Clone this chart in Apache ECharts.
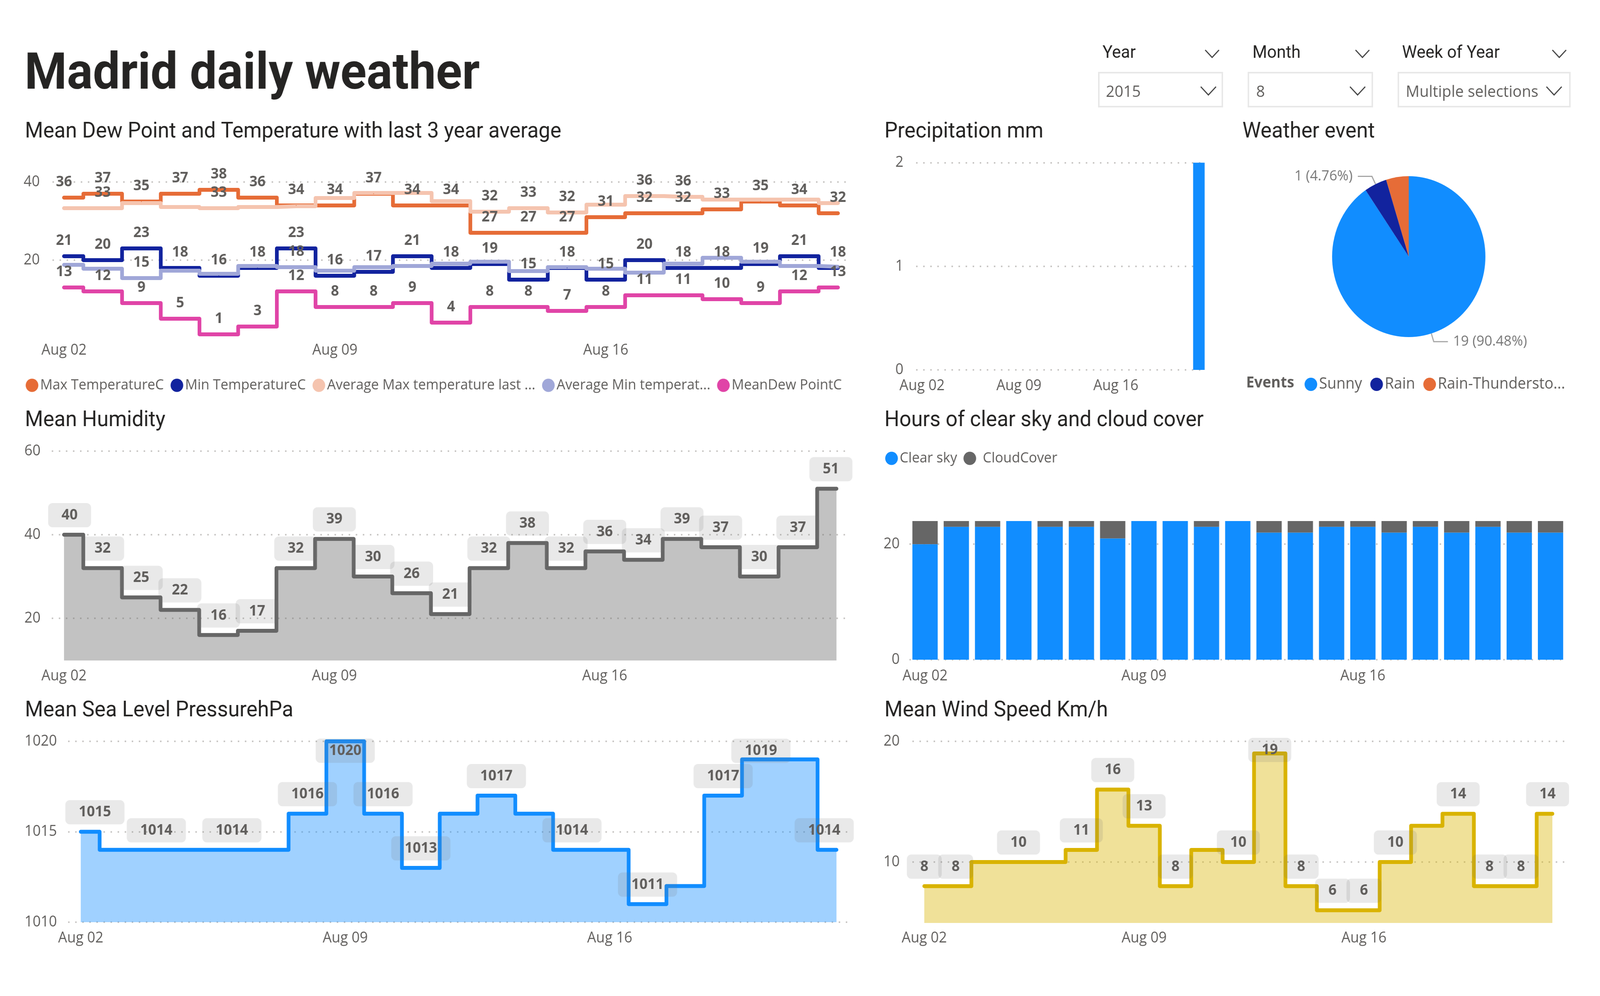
<!DOCTYPE html>
<html lang="en">
<head>
    <meta charset="UTF-8">
    <title>Madrid daily weather</title>
    <style>html,body{margin:0;padding:0;background:#fff;overflow:hidden;}</style>
    <script src="https://cdn.jsdelivr.net/npm/echarts@6/dist/echarts.min.js"></script>
</head>
<body>
<div id="main" style="width:4300px;height:2550px;transform-origin:0 0;"></div>
<script>
    // the report is laid out at 4300 wide, squeeze it if the window is narrower
    if (window.innerWidth < 4300) {
        document.getElementById('main').style.transform = 'scaleX(' + (window.innerWidth / 4300) + ')';
    }

    var days = ['Aug 02','Aug 03','Aug 04','Aug 05','Aug 06','Aug 07','Aug 08','Aug 09','Aug 10','Aug 11','Aug 12',
        'Aug 13','Aug 14','Aug 15','Aug 16','Aug 17','Aug 18','Aug 19','Aug 20','Aug 21','Aug 22'];

    var maxTemp = [36,37,35,37,38,36,34,34,37,34,34,27,27,27,31,32,32,33,35,34,32];
    var minTemp = [21,20,23,18,16,18,23,16,17,21,18,19,15,18,15,20,18,18,19,21,18];
    var avgMax = [33.3,33.3,34.6,33.6,33.3,33.6,33.8,35.9,37.2,37.2,35.1,32.4,33.3,32.2,34.2,36.4,36.2,35.5,35.5,35.5,34.6];
    var avgMin = [18.8,17.8,15.4,17.3,16.5,18.5,18.2,17.3,18.2,18.5,19.1,19.6,17.2,18.2,17.8,16.8,19.1,20.6,19.6,18.5,18.3];
    var dewPoint = [13,12,9,5,1,3,12,8,8,9,4,8,8,7,8,11,11,10,9,12,13];
    var humidity = [40,32,25,22,16,17,32,39,30,26,21,32,38,32,36,34,39,37,30,37,51];
    var pressure = [1015,1014,1014,1014,1014,1014,1016,1020,1016,1013,1016,1017,1016,1014,1014,1011,1012,1017,1019,1019,1014];
    var wind = [8,8,10,10,10,11,16,13,8,11,10,19,8,6,6,10,13,14,8,8,14];
    var precipitation = [0,0,0,0,0,0,0,0,0,0,0,0,0,0,0,0,0,0,0,0,2];
    var clearSky = [20,23,23,24,23,23,21,24,24,23,24,22,22,23,23,22,23,22,23,22,22];
    var cloudCover = [4,1,1,0,1,1,3,0,0,1,0,2,2,1,1,2,1,2,1,2,2];
    var events = [
        {name: 'Sunny', value: 19},
        {name: 'Rain', value: 1},
        {name: 'Rain-Thunderstorm', value: 1}
    ];

    var BLUE = '#118DFF', NAVY = '#12239E', ORANGE = '#E66C37';
    var textGrey = '#605E5C', titleColor = '#252423';
    var baseFont = '"Open Sans"', titleFont = 'Roboto';

    // which days get a label (the report hides the ones that would collide)
    var avgMaxLabels = [1,4,11,12,13,15,16];
    var avgMinLabels = [2,6];
    var pressureLabels = {0:[38,0],2:[0,0],4:[0,0],6:[0,0],7:[0,74],8:[0,0],9:[0,0],11:[0,0],13:[0,0],15:[0,0],17:[0,0],18:[0,28],20:[-33,0]};
    var windLabels = {0:[0,0],1:[0,0],3:[0,0],5:[0,0],6:[0,0],7:[0,0],8:[0,0],10:[0,0],11:[0,41],12:[0,0],13:[0,0],14:[0,0],15:[0,0],17:[0,0],18:[0,0],19:[0,0],20:[-13,0]};
    var humidityLabels = {};
    for (var h = 0; h < 21; h++) { humidityLabels[h] = [0,0]; }
    humidityLabels[0] = [15,0];
    humidityLabels[20] = [-15,0];

    function titleItem(text, left, baseline, size, weight) {
        return {
            text: text, left: left, top: baseline - size * 0.86, padding: 0,
            textStyle: {fontFamily: titleFont, fontSize: size, fontWeight: weight || 'normal', color: titleColor}
        };
    }

    function gridItem(left, right, top, bottom) {
        return {left: left, top: top, width: right - left, height: bottom - top, outerBoundsMode: 'none'};
    }

    function xAxisItem(index, first, spacing, left, right, margin) {
        return {
            gridIndex: index, type: 'value',
            min: (left - first) / spacing, max: (right - first) / spacing,
            axisLine: {show: false}, splitLine: {show: false},
            axisTick: {show: false, customValues: [0,7,14]},
            axisLabel: {
                customValues: [0,7,14], margin: margin, color: textGrey, fontFamily: baseFont, fontSize: 38,
                formatter: function (v) { return days[v]; }
            }
        };
    }

    function yAxisItem(index, min, max, ticks, margin) {
        return {
            gridIndex: index, type: 'value', min: min, max: max,
            axisLine: {show: false},
            axisTick: {show: false, customValues: ticks},
            axisLabel: {
                customValues: ticks, margin: margin, color: textGrey, fontFamily: baseFont, fontSize: 38,
                formatter: function (v) { return '' + v; }
            },
            splitLine: {show: true, lineStyle: {color: '#C8C6C4', width: 4, type: [4,15]}}
        };
    }

    function points(values, labelFor) {
        var out = [];
        for (var i = 0; i < values.length; i++) {
            var item = {value: [i, values[i]]};
            item.label = labelFor(i);
            out.push(item);
        }
        return out;
    }

    function stepSeries(name, values, color, index, labelFor, extra) {
        var s = {
            name: name, type: 'line', step: 'middle', xAxisIndex: index, yAxisIndex: index,
            data: points(values, labelFor), clip: false,
            symbol: 'circle', symbolSize: 2, itemStyle: {color: color},
            lineStyle: {color: color, width: 10, cap: 'round', join: 'round'},
            label: {
                position: 'top', distance: 20, color: textGrey, fontFamily: baseFont, fontSize: 38, fontWeight: 'bold',
                lineHeight: 38, formatter: function (p) { return Math.round(p.value[1]); }
            }
        };
        if (extra) {
            s.areaStyle = {color: color, opacity: 0.4, origin: 'start'};
            s.label.backgroundColor = 'rgba(120,120,120,0.16)';
            s.label.borderRadius = 12;
            s.label.padding = [12,36];
            s.label.distance = 18;
        }
        return s;
    }

    function showAll() { return {show: true}; }
    function showIn(list) {
        return function (i) { return {show: list.indexOf(i) >= 0}; };
    }
    function showMap(map) {
        return function (i) {
            return map[i] ? {show: true, offset: map[i]} : {show: false};
        };
    }

    var legendText = {fontFamily: baseFont, fontSize: 37, color: textGrey};
    var shortNames = {
        'Average Max temperature last 3 years': 'Average Max temperature last ...',
        'Average Min temperature last 3 years': 'Average Min temperat...',
        'Rain-Thunderstorm': 'Rain-Thundersto...'
    };
    function shortName(name) { return shortNames[name] || name; }

    // slicers along the top right
    function chevron(x1, x2, y1, y2) {
        return {
            type: 'polyline',
            shape: {points: [[x1,y1],[(x1 + x2) / 2,y2],[x2,y1]]},
            style: {fill: null, stroke: '#444', lineWidth: 3}
        };
    }
    function slicer(label, value, boxLeft, boxRight, labelX, headChevX, boxChevX, valueX) {
        return [
            {type: 'text', x: labelX, y: 137, style: {text: label, fontFamily: titleFont, fontSize: 45, fill: titleColor, textVerticalAlign: 'middle'}},
            chevron(headChevX, headChevX + 37, 128, 147),
            {type: 'rect', shape: {x: boxLeft, y: 186, width: boxRight - boxLeft, height: 87}, style: {fill: '#fff', stroke: '#E8E8E8', lineWidth: 4}},
            {type: 'text', x: valueX, y: 236, style: {text: value, fontFamily: baseFont, fontSize: 41, fill: textGrey, textVerticalAlign: 'middle'}},
            chevron(boxChevX, boxChevX + 41, 222, 243)
        ];
    }

    var graphics = [].concat(
        slicer('Year', '2015', 2953, 3285, 2963, 3239, 3227, 2972),
        slicer('Month', '8', 3355, 3688, 3366, 3643, 3628, 3376),
        slicer('Week of Year', 'Multiple selections', 3758, 4219, 3768, 4172, 4156, 3778),
        [{type: 'text', x: 3349, y: 981, style: {text: 'Events', fontFamily: baseFont, fontWeight: 'bold', fontSize: 39, fill: textGrey, textVerticalAlign: 'middle'}}]
    );

    var option = {
        backgroundColor: '#fff',
        animation: false,
        title: [
            titleItem('Madrid daily weather', 66, 241, 130, 'bold'),
            titleItem('Mean Dew Point and Temperature with last 3 year average', 67, 358, 56),
            titleItem('Precipitation mm', 2377, 358, 56),
            titleItem('Weather event', 3339, 358, 56),
            titleItem('Mean Humidity', 67, 1097, 56),
            titleItem('Hours of clear sky and cloud cover', 2377, 1097, 56),
            titleItem('Mean Sea Level PressurehPa', 67, 1840, 56),
            titleItem('Mean Wind Speed Km/h', 2377, 1840, 56)
        ],
        legend: [
            {
                left: 69, top: 968, icon: 'circle', itemWidth: 34, itemHeight: 34, itemGap: 18, padding: 0,
                data: ['Max TemperatureC','Min TemperatureC','Average Max temperature last 3 years','Average Min temperature last 3 years','MeanDew PointC'],
                textStyle: legendText, formatter: shortName
            },
            {
                left: 3506, top: 964, icon: 'circle', itemWidth: 34, itemHeight: 34, itemGap: 22, padding: 0,
                data: ['Sunny','Rain','Rain-Thunderstorm'],
                textStyle: {fontFamily: baseFont, fontSize: 40, color: textGrey}, formatter: shortName
            },
            {
                left: 2379, top: 1155, icon: 'circle', itemWidth: 34, itemHeight: 34, itemGap: 17, padding: 0,
                data: ['Clear sky', {name: 'CloudCover', textStyle: {padding: [0,0,0,13]}}],
                textStyle: legendText
            }
        ],
        grid: [
            gridItem(141, 2274, 466, 866),
            gridItem(2462, 3237, 416.6, 947),
            gridItem(139, 2275, 1155, 1691),
            gridItem(2444, 4209, 1334, 1689),
            gridItem(183, 2278, 1898, 2361),
            gridItem(2452, 4205, 1898, 2363)
        ],
        xAxis: [
            xAxisItem(0, 172, 104, 141, 2274, 12),
            xAxisItem(1, 2478, 37.2, 2462, 3237, 22),
            xAxisItem(2, 172, 103.8, 139, 2275, 21),
            {
                gridIndex: 3, type: 'category', data: days,
                axisLine: {show: false}, axisTick: {show: false},
                axisLabel: {interval: 6, margin: 23, color: textGrey, fontFamily: baseFont, fontSize: 38}
            },
            xAxisItem(4, 217, 101.55, 183, 2278, 22),
            xAxisItem(5, 2484, 84.4, 2452, 4205, 20)
        ],
        yAxis: [
            yAxisItem(0, 0, 40, [20,40], 34),
            yAxisItem(1, 0, 2, [0,1,2], 34),
            yAxisItem(2, 9.9, 60, [20,40,60], 30),
            yAxisItem(3, 0, 24, [0,20], 26),
            yAxisItem(4, 1010, 1020, [1010,1015,1020], 30),
            yAxisItem(5, 4.95, 20, [10,20], 34)
        ],
        series: [
            stepSeries('Max TemperatureC', maxTemp, ORANGE, 0, showAll),
            stepSeries('Min TemperatureC', minTemp, NAVY, 0, showAll),
            stepSeries('Average Max temperature last 3 years', avgMax, '#F5C4AF', 0, showIn(avgMaxLabels)),
            stepSeries('Average Min temperature last 3 years', avgMin, '#A0A7D8', 0, showIn(avgMinLabels)),
            stepSeries('MeanDew PointC', dewPoint, '#E044A7', 0, showAll),
            {
                name: 'Precipitation mm', type: 'bar', xAxisIndex: 1, yAxisIndex: 1, barWidth: 31,
                data: precipitation.map(function (v, i) { return [i, v]; }),
                itemStyle: {color: BLUE}
            },
            {
                name: 'Weather event', type: 'pie', center: [3786, 657], radius: 206,
                startAngle: 90, clockwise: true, percentPrecision: 2,
                data: [
                    {name: events[0].name, value: events[0].value, itemStyle: {color: BLUE}},
                    {name: events[1].name, value: events[1].value, itemStyle: {color: NAVY}},
                    {name: events[2].name, value: events[2].value, itemStyle: {color: ORANGE}, label: {show: false}, labelLine: {show: false}}
                ],
                label: {formatter: '{c} ({d}%)', fontFamily: baseFont, fontSize: 37, color: '#777', distanceToLabelLine: 14},
                labelLine: {length: 22, length2: 38, lineStyle: {color: '#A6A6A6', width: 3}}
            },
            stepSeries('Mean Humidity', humidity, '#666666', 2, showMap(humidityLabels), true),
            {
                name: 'Clear sky', type: 'bar', stack: 'hours', xAxisIndex: 3, yAxisIndex: 3, barWidth: 68,
                data: clearSky, itemStyle: {color: BLUE}
            },
            {
                name: 'CloudCover', type: 'bar', stack: 'hours', xAxisIndex: 3, yAxisIndex: 3, barWidth: 68,
                data: cloudCover, itemStyle: {color: '#666666'}
            },
            stepSeries('Mean Sea Level', pressure, BLUE, 4, showMap(pressureLabels), true),
            stepSeries('Mean Wind Speed', wind, '#D9B300', 5, showMap(windLabels), true)
        ],
        graphic: graphics
    };

    var myChart = echarts.init(document.getElementById('main'));
    myChart.setOption(option);
</script>
</body>
</html>
